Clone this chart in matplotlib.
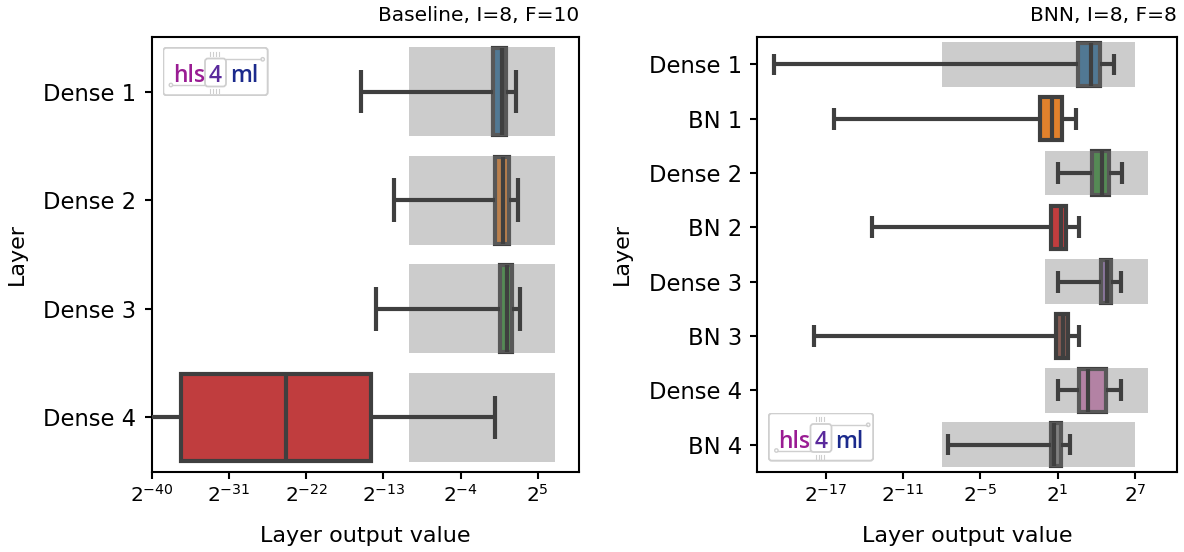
import matplotlib
matplotlib.use("Agg")
import matplotlib.pyplot as plt
import numpy as np
from matplotlib.patches import FancyBboxPatch, Circle
from matplotlib.ticker import FixedLocator, LogFormatterSciNotation, NullLocator

W, H = 1184, 552

# ---------------- data (log2 exponents) ----------------
base_layers = ["Dense 1", "Dense 2", "Dense 3", "Dense 4"]
base_q1 = [-0.26, -0.02, 0.63, -36.6]
base_med = [0.79, 0.91, 1.38, -24.4]
base_q3 = [1.33, 1.6, 2.0, -14.4]
base_wlo = [-15.64, -11.73, -13.82, -50.0]
base_whi = [2.42, 2.73, 2.96, 0.0]
base_rect_lo = [-10, -10, -10, -10]
base_rect_hi = [7, 7, 7, 7]

bnn_layers = ["Dense 1", "BN 1", "Dense 2", "BN 2", "Dense 3", "BN 3", "Dense 4", "BN 4"]
bnn_q1 = [2.58, -0.40, 3.64, 0.46, 4.36, 0.84, 2.63, 0.50]
bnn_med = [3.59, 0.53, 4.46, 1.23, 4.81, 1.43, 3.33, 0.74]
bnn_q3 = [4.31, 1.31, 4.96, 1.67, 5.16, 1.82, 4.77, 1.23]
bnn_wlo = [-21.0, -16.37, 1.0, -13.45, 1.0, -17.93, 1.0, -7.5]
bnn_whi = [5.40, 2.40, 5.97, 2.65, 5.92, 2.68, 5.92, 1.96]
bnn_rect_lo = [-8, None, 0, None, 0, None, 0, -8]
bnn_rect_hi = [7, None, 8, None, 8, None, 8, 7]

palette = ["#3274a1", "#e1812c", "#3a923a", "#c03d3e",
           "#9372b2", "#845b53", "#d684bd", "#7f7f7f"]

base_title = "Baseline, I=8, F=10"
bnn_title = "BNN, I=8, F=8"
base_xticks = [-40, -31, -22, -13, -4, 5]
bnn_xticks = [-17, -11, -5, 1, 7]
base_xlim = (-40, 9.8)
bnn_xlim = (-22.33, 10.27)

EDGE = "#3f3f3f"

fig = plt.figure(figsize=(W / 100, H / 100), dpi=100)


def px_axes(x0, y0, x1, y1):
    return fig.add_axes([x0 / W, 1 - y1 / H, (x1 - x0) / W, (y1 - y0) / H])


def draw_panel(ax, layers, q1, med, q3, wlo, whi, rlo, rhi, xticks, xlim, title):
    n = len(layers)
    stats = []
    for i in range(n):
        stats.append(dict(med=2.0 ** med[i], q1=2.0 ** q1[i], q3=2.0 ** q3[i],
                          whislo=2.0 ** wlo[i], whishi=2.0 ** whi[i], fliers=[]))
    pos = np.arange(n)
    bp = ax.bxp(stats, positions=pos, widths=0.8, orientation="horizontal",
                patch_artist=True, manage_ticks=False, showfliers=False,
                boxprops=dict(edgecolor=EDGE, linewidth=3),
                whiskerprops=dict(color=EDGE, linewidth=3),
                capprops=dict(color=EDGE, linewidth=3),
                medianprops=dict(color=EDGE, linewidth=3))
    for i, b in enumerate(bp["boxes"]):
        b.set_facecolor(palette[i])
        b.set_zorder(1)
    for key in ("whiskers", "caps", "medians"):
        for l in bp[key]:
            l.set_zorder(3)
            l.set_solid_capstyle("butt")
    ry, rl, rw = [], [], []
    for i in range(n):
        if rlo[i] is None:
            continue
        ry.append(pos[i])
        rl.append(2.0 ** rlo[i])
        rw.append(2.0 ** rhi[i] - 2.0 ** rlo[i])
    ax.barh(ry, rw, left=rl, height=0.82, color="gray", alpha=0.4,
            linewidth=0, zorder=2)
    ax.set_xscale("log", base=2)
    ax.set_xlim(2.0 ** xlim[0], 2.0 ** xlim[1])
    ax.set_ylim(n - 0.5, -0.5)
    ax.xaxis.set_major_locator(FixedLocator([2.0 ** t for t in xticks]))
    ax.xaxis.set_major_formatter(LogFormatterSciNotation(base=2))
    ax.xaxis.set_minor_locator(NullLocator())
    ax.set_yticks(pos)
    ax.set_yticklabels(layers)
    ax.tick_params(axis="y", labelsize=16.3, length=5, width=1.5, pad=6)
    ax.tick_params(axis="x", labelsize=14.5, length=5, width=1.5)
    for s in ax.spines.values():
        s.set_linewidth(1.5)
    ax.set_xlabel("Layer output value", fontsize=16, labelpad=15)
    ax.set_ylabel("Layer", fontsize=16, labelpad=12)
    ax.set_title(title, loc="right", fontsize=14.5, pad=12)


def draw_logo(x0, y0):
    lw_, lh_ = 106.0, 49.0
    la = px_axes(x0, y0, x0 + lw_, y0 + lh_)
    la.set_xlim(0, lw_)
    la.set_ylim(lh_, 0)
    la.axis("off")
    la.set_zorder(10)
    g = "#cfcfcf"
    la.add_patch(FancyBboxPatch((0.8, 0.8), lw_ - 1.6, lh_ - 1.6,
                                boxstyle="round,pad=0,rounding_size=3",
                                facecolor="white", edgecolor=g, linewidth=1.4))
    la.add_patch(FancyBboxPatch((42.5, 11.5), 21.0, 28.0,
                                boxstyle="round,pad=0,rounding_size=3",
                                facecolor="white", edgecolor=g, linewidth=1.3))
    for xx in (47.8, 50.6, 53.4, 56.2):
        la.plot([xx, xx], [4.5, 8.5], color=g, lw=0.8)
        la.plot([xx, xx], [42.0, 46.0], color=g, lw=0.8)
    la.plot([10, 42.5], [38, 38], color=g, lw=1.0)
    la.plot([63.5, 98.5], [12.3, 12.3], color=g, lw=1.0)
    la.add_patch(Circle((8.4, 38), 1.7, facecolor="white", edgecolor=g, lw=1.0))
    la.add_patch(Circle((100.2, 12.3), 1.7, facecolor="white", edgecolor=g, lw=1.0))
    kw = dict(fontsize=16.5, fontweight="semibold", family="Open Sans",
              ha="center", va="baseline")
    la.text(26.5, 35.5, "hls", color="#9a1c93", **kw)
    la.text(53.0, 35.5, "4", color="#5a2a9c", **kw)
    la.text(81.5, 35.5, "ml", color="#1b2a8c", **kw)


ax1 = px_axes(151.7, 37.3, 579, 471.7)
draw_panel(ax1, base_layers, base_q1, base_med, base_q3, base_wlo, base_whi,
           base_rect_lo, base_rect_hi, base_xticks, base_xlim, base_title)
ax2 = px_axes(757.3, 37.3, 1177, 471.7)
draw_panel(ax2, bnn_layers, bnn_q1, bnn_med, bnn_q3, bnn_wlo, bnn_whi,
           bnn_rect_lo, bnn_rect_hi, bnn_xticks, bnn_xlim, bnn_title)

draw_logo(162.5, 47.0)
draw_logo(768.0, 412.5)

fig.savefig("out.png", dpi=100)
